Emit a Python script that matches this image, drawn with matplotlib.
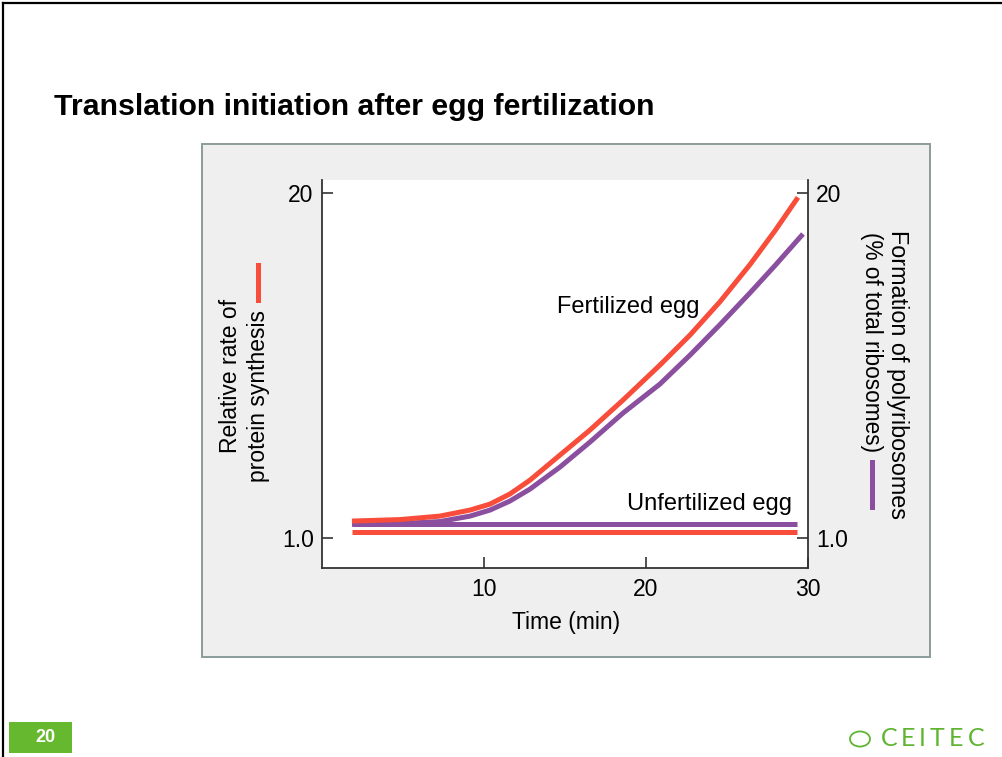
import matplotlib
matplotlib.use("Agg")
import matplotlib.pyplot as plt
from matplotlib.lines import Line2D
from matplotlib.patches import Rectangle, Circle
from matplotlib.ticker import NullLocator

plt.rcParams['font.family'] = ['Liberation Sans', 'DejaVu Sans']

W, H = 1003, 757

# data (time in min, log-scaled relative values)
time_fert = [1.85, 4.81, 7.28, 9.14, 10.37, 11.60, 12.84, 14.69, 16.54, 18.58,
             20.86, 22.72, 24.57, 26.42, 27.96, 29.38]
protein_fert = [1.159, 1.174, 1.210, 1.275, 1.343, 1.466, 1.654, 2.056, 2.554, 3.314,
                4.491, 5.831, 7.788, 10.75, 14.41, 19.26]
time_poly = [1.85, 4.81, 7.28, 9.14, 10.37, 11.60, 12.84, 14.69, 16.54, 18.58,
             20.86, 22.72, 24.57, 26.42, 27.96, 29.69]
polysome_fert = [1.129, 1.134, 1.154, 1.210, 1.275, 1.379, 1.530, 1.852, 2.301, 2.960,
                 3.808, 4.898, 6.384, 8.405, 10.65, 14.02]
time_unfert = [1.85, 29.3]
protein_unfert = [1.05, 1.05]
polysome_unfert = [1.13, 1.13]

y_ticks = [1.0, 20]
y_tick_labels = ['1.0', '20']
x_ticks = [10, 20, 30]

RED = '#f84d3b'
PURPLE = '#8b4f9f'


def fx(x):
    return x / W


def fy(y):
    return 1 - y / H


fig = plt.figure(figsize=(W / 100, H / 100), dpi=100)
fig.patch.set_facecolor('white')

# slide border (top and left)
fig.add_artist(Line2D([fx(3), fx(1003)], [fy(3), fy(3)], color='black', lw=1.6))
fig.add_artist(Line2D([fx(3), fx(3)], [fy(3), fy(757)], color='black', lw=1.6))

fig.text(fx(54), fy(115), 'Translation initiation after egg fertilization',
         fontsize=21.8, fontweight='bold', ha='left', va='baseline')

# gray panel behind the chart
fig.add_artist(Rectangle((fx(202), fy(657)), fx(728), 513 / H, transform=fig.transFigure,
                         facecolor='#efefef', edgecolor='#8c9c9a', lw=1.4, zorder=0))

ax = fig.add_axes([fx(322), fy(568), fx(486), 388 / H])
ax.set_facecolor('white')
ax.set_yscale('log')

lw = 3.6
ax.plot(time_unfert, protein_unfert, color=RED, lw=lw, solid_capstyle='butt')
ax.plot(time_unfert, polysome_unfert, color=PURPLE, lw=lw, solid_capstyle='butt')
ax.plot(time_poly, polysome_fert, color=PURPLE, lw=lw, solid_capstyle='butt',
        solid_joinstyle='round')
ax.plot(time_fert, protein_fert, color=RED, lw=lw, solid_capstyle='butt',
        solid_joinstyle='round')

ax.set_xlim(0, 30)
ax.set_ylim(0.771, 22.4)
ax.set_xticks(x_ticks)
ax.set_yticks(y_ticks)
ax.set_yticklabels(y_tick_labels)
ax.yaxis.set_minor_locator(NullLocator())
ax.tick_params(axis='both', direction='in', length=8, width=1.2, labelsize=16.5, pad=7,
               color='#333333')
ax.tick_params(axis='y', right=True, labelright=True, pad=6)
ax.spines['top'].set_visible(False)
for s in ['left', 'bottom', 'right']:
    ax.spines[s].set_linewidth(1.3)
    ax.spines[s].set_color('#333333')

ax.text(14.51, 7.05, 'Fertilized egg', fontsize=17, ha='left', va='baseline')
ax.text(18.83, 1.275, 'Unfertilized egg', fontsize=17, ha='left', va='baseline')

fig.text(fx(566), fy(623), 'Time (min)', fontsize=16.5, ha='center', va='center')

# left axis label with red key
fig.text(fx(231), fy(376), 'Relative rate of', fontsize=16.5, rotation=90,
         ha='center', va='center')
fig.text(fx(258), fy(396), 'protein synthesis', fontsize=16.5, rotation=90,
         ha='center', va='center')
fig.add_artist(Line2D([fx(258), fx(258)], [fy(265), fy(300)], color=RED, lw=lw))

# right axis label with purple key
fig.text(fx(898), fy(374), 'Formation of polyribosomes', fontsize=16.8, rotation=270,
         ha='center', va='center')
fig.text(fx(872), fy(342), '(% of total ribosomes)', fontsize=16.3, rotation=270,
         ha='center', va='center')
fig.add_artist(Line2D([fx(872), fx(872)], [fy(462), fy(507)], color=PURPLE, lw=lw))

# footer: page number and logo
fig.add_artist(Rectangle((fx(9), fy(753)), fx(63), 31 / H, transform=fig.transFigure,
                         facecolor='#66b82e', edgecolor='none'))
fig.text(fx(45), fy(738), '20', fontsize=13, fontweight='bold', color='white',
         ha='center', va='center')
GREEN = '#5fb532'
fig.add_artist(Circle((fx(860), fy(739)), 10 / W, transform=fig.transFigure,
                      facecolor='none', edgecolor=GREEN, lw=1.3))
for letter, xc in zip('CEITEC', [889, 908, 922, 937, 956, 976]):
    fig.text(fx(xc), fy(739), letter, fontsize=18, color=GREEN, family='Lato',
             fontweight='normal', ha='center', va='center')

fig.savefig('out.png', dpi=100)
